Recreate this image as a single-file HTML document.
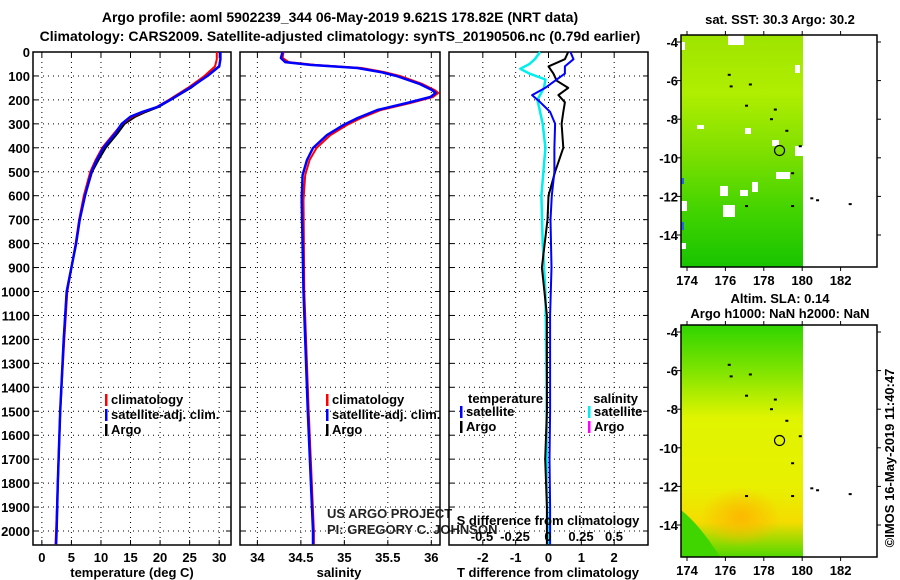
<!DOCTYPE html>
<html><head><meta charset="utf-8"><style>
body{margin:0;background:#fff}
svg{display:block;font-family:"Liberation Sans",sans-serif}
.b{font-weight:bold;font-size:13px}
.t{font-weight:bold;font-size:14px}
</style></head><body>
<svg id="c" width="900" height="580" viewBox="0 0 900 580" xmlns="http://www.w3.org/2000/svg">
<defs>
<linearGradient id="sstg" x1="0" y1="0" x2="0" y2="1">
<stop offset="0" stop-color="#9ee400"/><stop offset="0.25" stop-color="#b0ee00"/><stop offset="0.5" stop-color="#80e000"/><stop offset="0.75" stop-color="#44d400"/><stop offset="1" stop-color="#18c400"/></linearGradient>
<linearGradient id="slag" x1="0" y1="0" x2="0" y2="1">
<stop offset="0" stop-color="#30d400"/><stop offset="0.2" stop-color="#80e400"/><stop offset="0.4" stop-color="#e0f400"/><stop offset="0.7" stop-color="#e8f000"/><stop offset="0.85" stop-color="#f4dc00"/><stop offset="1" stop-color="#50d800"/></linearGradient>
<radialGradient id="slah" cx="0.5" cy="0.5" r="0.5"><stop offset="0" stop-color="#fcb800"/><stop offset="1" stop-color="#fcb800" stop-opacity="0"/></radialGradient>
</defs>
<text class="t" x="340" y="22" text-anchor="middle">Argo profile: aoml 5902239_344 06-May-2019 9.621S 178.82E (NRT data)</text>
<text class="t" x="340" y="41" text-anchor="middle">Climatology: CARS2009. Satellite-adjusted climatology: synTS_20190506.nc (0.79d earlier)</text>
<g id="g"></g>
</svg>
<script>
// ---- data ----
const tDepths = [0,30,60,100,150,200,230,250,270,300,340,400,450,500,600,700,800,1000,1200,1500,1800,2000,2055];
const tempClim = [29.6,29.6,29.3,27.5,24.7,21.5,19.4,17.2,15.3,13.6,12.2,10.2,9.1,8.2,7.1,6.3,5.7,4.3,3.8,3.1,2.7,2.4,2.3];
const tempSat  = [30.2,30.2,30.0,28.0,25.0,21.7,19.5,17.0,15.0,13.5,12.4,10.4,9.3,8.4,7.3,6.4,5.8,4.2,3.7,3.1,2.7,2.5,2.4];
const tempArgo = [null,null,29.9,27.9,25.2,21.8,19.7,17.6,15.8,14.0,12.8,10.8,9.6,8.5,7.3,6.4,5.8,4.2,3.7,3.1,2.7,2.5,null];
const sDepths = [0,25,42,54,67,84,100,134,159,171,188,213,242,276,305,347,401,451,514,618,1000,1500,2000,2055];
const salClim = [34.30,34.29,34.36,34.66,35.20,35.46,35.64,35.90,36.04,36.08,36.02,35.76,35.42,35.19,35.03,34.84,34.68,34.60,34.55,34.53,34.54,34.59,34.65,34.65];
const salSat  = [34.29,34.27,34.32,34.61,35.15,35.42,35.60,35.87,36.01,36.05,35.99,35.72,35.38,35.15,34.99,34.80,34.64,34.57,34.52,34.51,34.53,34.58,34.64,34.64];
const tDiffDepths = [0,30,60,90,120,150,180,210,250,300,400,500,600,700,900,1100,1300,1500,1700,1900,2055];
const tDiffSat  = [0.67,0.76,0.5,0.5,0.2,-0.1,-0.5,-0.25,0.05,0.2,0.18,0.18,0.1,0.06,0.09,0.05,0.05,0.05,0.03,0.05,0.05];
const tDiffArgo = [0.6,0.5,0.0,0.15,0.25,0.6,0.3,0.5,0.45,0.4,0.45,0.2,0.0,-0.03,-0.2,-0.05,-0.05,-0.05,-0.1,-0.05,-0.05];
const sDiffDepths = [0,30,50,70,90,115,150,200,250,300,400,600,800,1000,1400,1800,2055];
const sDiff = [-0.06,-0.10,-0.14,-0.21,-0.14,-0.02,-0.03,-0.08,-0.06,-0.04,-0.02,-0.05,-0.04,-0.02,-0.01,-0.01,0.0];
const depthTicks = [0,100,200,300,400,500,600,700,800,900,1000,1100,1200,1300,1400,1500,1600,1700,1800,1900,2000];
const tempTicks = [0,5,10,15,20,25,30];
const salTicks = [34,34.5,35,35.5,36];
const salTickLabels = ["34","34.5","35","35.5","36"];
const diffTicks = [-2,-1,0,1,2];
const sDiffTicks = [-0.5,-0.25,0,0.25,0.5];
const sDiffTickLabels = ["-0.5","-0.25","0","0.25","0.5"];
const latTicks = [-4,-6,-8,-10,-12,-14];
const lonTicks = [174,176,178,180,182];

const NS='http://www.w3.org/2000/svg';
const G=document.getElementById('g');
function mk(tag,attrs,parent){const e=document.createElementNS(NS,tag);for(const k in attrs)e.setAttribute(k,attrs[k]);(parent||G).appendChild(e);return e;}
function txt(s,x,y,cls,anchor,parent){const e=mk('text',{x:x,y:y,class:cls||'b','text-anchor':anchor||'start'},parent);e.textContent=s;return e;}
const Y0=52, YB=545, yS=0.2395;
const yD=d=>Y0+d*yS;

function panel(name,x0,x1,xmin,xmax,ticks,labels){
  const g=mk('g',{});
  
  
  const sx=v=>x0+(v-xmin)/(xmax-xmin)*(x1-x0);
  depthTicks.forEach(d=>{const y=yD(d);
    mk('line',{x1:x0,x2:x1,y1:y,y2:y,stroke:'#000','stroke-width':1,'stroke-dasharray':'1,4'},g);
    mk('line',{x1:x0,x2:x0+5,y1:y,y2:y,stroke:'#000'},g);mk('line',{x1:x1-5,x2:x1,y1:y,y2:y,stroke:'#000'},g);});
  ticks.forEach((v,i)=>{const x=sx(v);
    mk('line',{x1:x,x2:x,y1:Y0,y2:YB,stroke:'#000','stroke-dasharray':'1,4'},g);
    mk('line',{x1:x,x2:x,y1:YB-5,y2:YB,stroke:'#000'},g);mk('line',{x1:x,x2:x,y1:Y0,y2:Y0+5,stroke:'#000'},g);
    const t=txt(labels?labels[i]:String(v),x,562,'b','middle',g);
    });
  mk('rect',{x:x0,y:Y0,width:x1-x0,height:YB-Y0,fill:'none',stroke:'#000','stroke-width':1.5},g);
  return {g,sx};
}
function line(p,ds,vs,color,w,name){
  let d='';let pen=false;
  vs.forEach((v,i)=>{if(v===null){pen=false;return;}d+=(pen?'L':'M')+p.sx(v).toFixed(1)+','+yD(ds[i]).toFixed(1);pen=true;});
  const e=mk('path',{d:d,fill:'none',stroke:color,'stroke-width':w,'stroke-linejoin':'round'},p.g);
  
}
function legend(p,x,y,items){
  items.forEach((it,i)=>{const yy=y+i*15;
    mk('rect',{x:x,y:yy-10,width:2.5,height:12,fill:it[1]},p.g);
    const t=txt(it[0],x+6,yy,'b','start',p.g);});
}
depthTicks.forEach(d=>{const t=txt(String(d),30,yD(d)+5,'b','end');});

const p1=panel('temperature-panel',33,231,-1.5,32,tempTicks);
line(p1,tDepths,tempArgo,'#000',2,'temp-argo-line');
line(p1,tDepths,tempClim,'#f00',2,'temp-climatology-line');
line(p1,tDepths,tempSat,'#00f',2.5,'temp-satellite-line');
legend(p1,105,404,[['climatology','#f00'],['satellite-adj. clim.','#00f'],['Argo','#000']]);
txt('temperature (deg C)',132,577,'b','middle');

const p2=panel('salinity-panel',240,440,33.8,36.1,salTicks,salTickLabels);
line(p2,sDepths,salClim,'#f00',2,'sal-climatology-line');
line(p2,sDepths,salSat,'#00f',2.5,'sal-satellite-line');
legend(p2,326,404,[['climatology','#f00'],['satellite-adj. clim.','#00f'],['Argo','#000']]);
txt('salinity',339,577,'b','middle');
const us=txt('US ARGO PROJECT',327,518,'','start');us.setAttribute('style','font-size:13px;fill:#222');
const pi=txt('PI: GREGORY C. JOHNSON',327,534,'','start');pi.setAttribute('style','font-size:13px;fill:#222');

const p3=panel('difference-panel',449,648,-3.03,3.03,diffTicks);
const sxS=v=>548+v*132;
const p3s={g:p3.g,sx:sxS};
line(p3s,sDiffDepths,sDiff,'#0ee',2.5,'sal-diff-satellite-line');
line(p3,tDiffDepths,tDiffArgo,'#000',2,'temp-diff-argo-line');
line(p3,tDiffDepths,tDiffSat,'#00f',2,'temp-diff-satellite-line');
txt('temperature',468,403,'b','start',p3.g);
legend(p3,460,416,[['satellite','#00f'],['Argo','#000']]);
txt('salinity',638,403,'b','end',p3.g);
legend(p3,588,416,[['satellite','#0ee'],['Argo','#f0f']]);
txt('S difference from climatology',548,525,'b','middle');
sDiffTicks.forEach((v,i)=>txt(sDiffTickLabels[i],sxS(v),541,'b','middle'));
txt('T difference from climatology',548,577,'b','middle');

function map(name,top,fill){
  const g=mk('g',{});
  const L=681,R=877,B=top+232;
  const sy=lat=>top+7+(-4-lat)*19.3, sx=lon=>687+(lon-174)*19.2;
  mk('rect',{x:L,y:top,width:803-L,height:B-top,fill:fill},g);
  return {g,L,R,B,sy,sx,top};
}
function mapFrame(m){
  mk('rect',{x:m.L,y:m.top,width:m.R-m.L,height:m.B-m.top,fill:'none',stroke:'#000','stroke-width':1.5},m.g);
  latTicks.forEach(l=>{const y=m.sy(l);mk('line',{x1:m.L-4,x2:m.L,y1:y,y2:y,stroke:'#000'},m.g);mk('line',{x1:m.R,x2:m.R+4,y1:y,y2:y,stroke:'#000'},m.g);txt(String(l),m.L-3,y+5,'b','end',m.g);});
  lonTicks.forEach(l=>{const x=m.sx(l);mk('line',{x1:x,x2:x,y1:m.B,y2:m.B+4,stroke:'#000'},m.g);mk('line',{x1:x,x2:x,y1:m.top-4,y2:m.top,stroke:'#000'},m.g);txt(String(l),x,m.B+18,'b','middle',m.g);});
  mk('circle',{cx:m.sx(178.82),cy:m.sy(-9.62),r:5,fill:'none',stroke:'#000','stroke-width':1.2},m.g);
  [[176.2,-5.7],[176.3,-6.3],[177.3,-6.2],[177.1,-7.3],[178.6,-7.5],[178.4,-8.0],[179.2,-8.6],[179.9,-9.4],[179.5,-10.8],[177.1,-12.5],[179.5,-12.5],[180.5,-12.1],[180.8,-12.2],[182.5,-12.4]].forEach(p=>mk('rect',{x:m.sx(p[0])-1.5,y:m.sy(p[1])-1,width:3,height:2,fill:'#000'},m.g));
}
const m1=map('sst-map',35,'url(#sstg)');
[[681,42,4,8],[728,35,16,10],[795,65,5,8],[697,125,7,4],[745,128,6,6],[772,140,7,6],[795,146,8,10],[776,172,14,7],[720,186,8,10],[740,190,8,6],[752,182,6,10],[723,205,12,12],[681,201,6,10],[681,243,5,6]].forEach(r=>mk('rect',{x:r[0],y:r[1],width:r[2],height:r[3],fill:'#fff'},m1.g));
mk('rect',{x:681,y:178,width:3,height:6,fill:'#1e6be0'},m1.g);
mk('rect',{x:681,y:222,width:3,height:8,fill:'#1e6be0'},m1.g);
mapFrame(m1);
txt('sat. SST: 30.3 Argo: 30.2',780,24,'b','middle');

const m2=map('sla-map',325,'url(#slag)');
mk('ellipse',{cx:741,cy:517,rx:40,ry:30,fill:'url(#slah)'},m2.g);
mk('path',{d:'M681,510 Q700,525 720,557 L681,557 Z',fill:'#40d400'},m2.g);
mapFrame(m2);
txt('Altim. SLA: 0.14',780,303,'b','middle');
txt('Argo h1000: NaN h2000: NaN',780,318,'b','middle');
const cr=txt('©IMOS 16-May-2019 11:40:47',0,0,'','middle');
cr.setAttribute('transform','translate(894,458) rotate(-90)');cr.setAttribute('style','font-size:13px');

</script>
</body></html>
